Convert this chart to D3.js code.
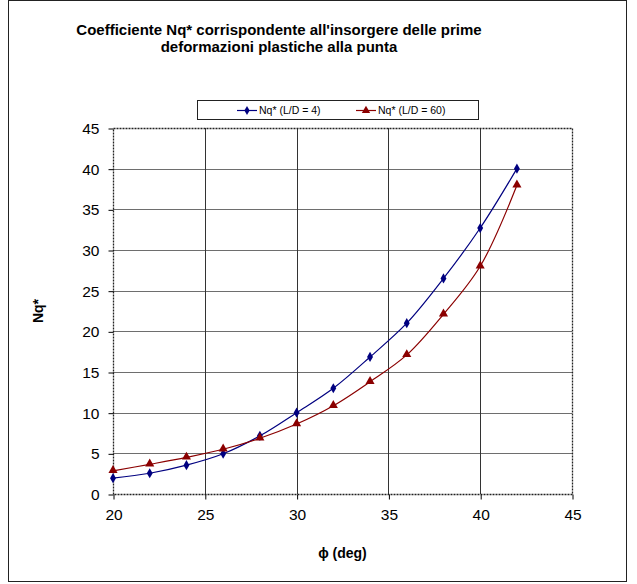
<!DOCTYPE html>
<html><head><meta charset="utf-8">
<script src="https://cdn.jsdelivr.net/npm/d3@7"></script>
<style>body{margin:0;background:#fff}svg{display:block}text{font-family:"Liberation Sans",Arial,sans-serif}</style>
</head><body><svg id="c" width="637" height="584"></svg>
<script>
const phi = [20, 22, 24, 26, 28, 30, 32, 34, 36, 38, 40, 42];
const nqLD4 = [1.95, 2.55, 3.55, 4.95, 7.15, 10.0, 13.0, 16.85, 21.0, 26.5, 32.7, 40.0];
const nqLD60 = [2.85, 3.65, 4.5, 5.5, 6.85, 8.6, 10.85, 13.8, 17.1, 22.1, 28.0, 37.95];
const xTicks = [20, 25, 30, 35, 40, 45];
const yTicks = [0, 5, 10, 15, 20, 25, 30, 35, 40, 45];
const titleLines = ["Coefficiente Nq* corrispondente all'insorgere delle prime", "deformazioni plastiche alla punta"];
const seriesNames = ["Nq* (L/D = 4)", "Nq* (L/D = 60)"];
const colors = ["#000080", "#8b0000"];

const svg = d3.select("#c");
svg.append("rect").attr("x",8.5).attr("y",0.5).attr("width",618).attr("height",581)
  .attr("fill","#fff").attr("stroke","#222").attr("stroke-width",1);

const L=113, R=572, T=128, B=494;
const x = d3.scaleLinear().domain([20,45]).range([L,R]);
const y = d3.scaleLinear().domain([0,45]).range([B,T]);

// grid
const g = svg.append("g");
g.selectAll(".hg").data(yTicks.filter(v=>v>0&&v<45)).join("line")
  .attr("x1",L).attr("x2",R).attr("y1",d=>Math.round(y(d))+0.5).attr("y2",d=>Math.round(y(d))+0.5)
  .attr("stroke","#6e6e6e").attr("stroke-width",1.2);
g.selectAll(".vg").data(xTicks.filter(v=>v>20&&v<45)).join("line")
  .attr("y1",T).attr("y2",B).attr("x1",d=>Math.round(x(d))+0.5).attr("x2",d=>Math.round(x(d))+0.5)
  .attr("stroke","#333").attr("stroke-width",1);

// plot border dashed
svg.append("rect").attr("x",L+0.5).attr("y",T+0.5).attr("width",R-L).attr("height",B-T)
  .attr("fill","none").attr("stroke","#222").attr("stroke-width",1.3).attr("stroke-dasharray","2,1");

// axes
const yAxis = d3.axisLeft(y).tickValues(yTicks).tickSize(5).tickPadding(9).tickFormat(d3.format("d"));
const ya = svg.append("g").attr("transform",`translate(${L+0.5},0.5)`).call(yAxis);
const xAxis = d3.axisBottom(x).tickValues(xTicks).tickSize(5).tickPadding(9).tickFormat(d3.format("d"));
const xa = svg.append("g").attr("transform",`translate(0.5,${B+0.5})`).call(xAxis);
[ya,xa].forEach(a=>{
  a.select(".domain").remove();
  a.selectAll("line").attr("stroke","#000");
  a.selectAll("text").attr("font-size",15.5).attr("fill","#000").attr("font-family","Liberation Sans, Arial, sans-serif");
});

// series
const line = d3.line().x(d=>x(d[0])).y(d=>y(d[1])).curve(d3.curveCatmullRom.alpha(0.5));
const series = [nqLD4, nqLD60];
series.forEach((vals,i)=>{
  const pts = phi.map((p,j)=>[p, vals[j]]);
  svg.append("path").datum(pts).attr("d",line).attr("fill","none").attr("stroke",colors[i]).attr("stroke-width",1.2);
  const sym = d3.symbol().type(i===0?d3.symbolDiamond:d3.symbolTriangle).size(i===0?30:36);
  svg.append("g").selectAll("path").data(pts).join("path")
    .attr("transform",d=>`translate(${x(d[0])},${y(d[1])+(i===1?-0.5:0)})`)
    .attr("d",sym).attr("fill",colors[i]);
});

// title
svg.append("g").selectAll("text").data(titleLines).join("text")
  .attr("x",279).attr("y",(d,i)=>35+i*16.5).attr("text-anchor","middle")
  .attr("font-size",15).attr("font-weight","bold").attr("fill","#000").text(d=>d);

// axis titles
svg.append("text").attr("transform",`translate(43,311) rotate(-90)`).attr("text-anchor","middle")
  .attr("font-size",14).attr("font-weight","bold").text("Nq*");
svg.append("text").attr("x",(L+R)/2).attr("y",558).attr("text-anchor","middle")
  .attr("font-size",14).attr("font-weight","bold").text("ϕ (deg)");

// legend
const lg = svg.append("g");
lg.append("rect").attr("x",197.5).attr("y",100.5).attr("width",281).attr("height",19)
  .attr("fill","#fff").attr("stroke","#222").attr("stroke-width",1);
const legX = [237, 356];
seriesNames.forEach((nm,i)=>{
  const lx = legX[i];
  lg.append("line").attr("x1",lx).attr("x2",lx+20).attr("y1",110.5).attr("y2",110.5).attr("stroke",colors[i]).attr("stroke-width",1.2);
  lg.append("path").attr("transform",`translate(${lx+10},${110.5})`)
    .attr("d",d3.symbol().type(i===0?d3.symbolDiamond:d3.symbolTriangle).size(i===0?24:30)).attr("fill",colors[i]);
  lg.append("text").attr("x",lx+22).attr("y",114).attr("font-size",10.5).attr("fill","#000").text(nm);
});
</script></body></html>
